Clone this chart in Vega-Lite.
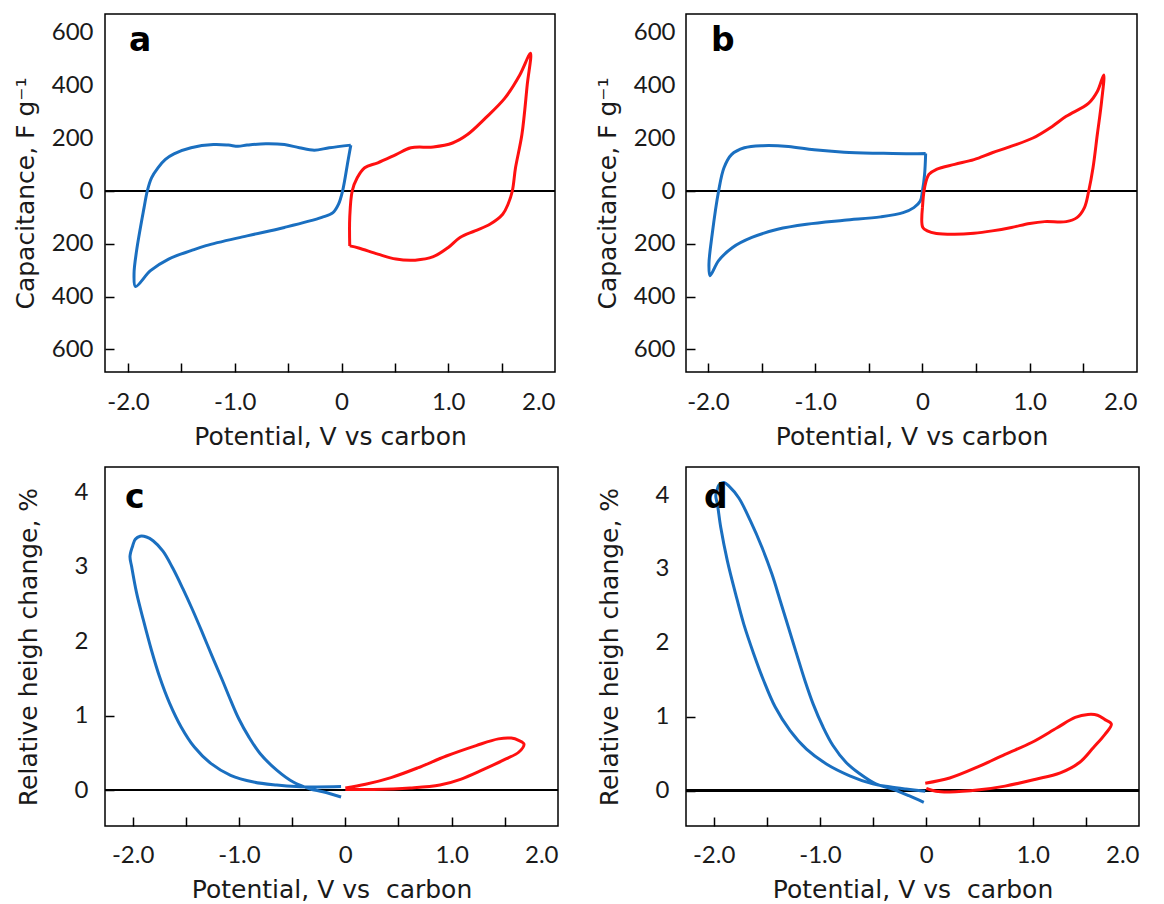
{
  "$schema": "https://vega.github.io/schema/vega-lite/v6.json",
  "background": "white",
  "padding": {"left": 12, "top": 13, "right": 0, "bottom": 0},
  "config": {
    "view": {"stroke": "black", "strokeWidth": 1.5},
    "font": "DejaVu Sans",
    "axis": {
      "domain": false, "grid": false, "tickColor": "black", "tickWidth": 1.5, "tickSize": -9,
      "tickOpacity": {"condition": {"test": "datum.value > 1.95", "value": 0}, "value": 1},
      "labelFont": "Lato", "labelFontSize": 24, "labelColor": "#1a1a1a",
      "titleFont": "DejaVu Sans", "titleFontSize": 25, "titleFontWeight": "normal", "titleColor": "#1a1a1a"
    },
    "title": {"font": "DejaVu Sans", "fontSize": 33, "fontWeight": "bold", "color": "black", "anchor": "start", "frame": "group", "baseline": "alphabetic", "offset": 0}
  },
  "datasets": {
    "curves": [
      {"p":"a","s":"n","i":1,"v":0.087,"y":174},{"p":"a","s":"n","i":2,"v":0.06,"y":113},{"p":"a","s":"n","i":3,"v":0.01,"y":0},{"p":"a","s":"n","i":4,"v":-0.028,"y":-50},{"p":"a","s":"n","i":5,"v":-0.08,"y":-82},{"p":"a","s":"n","i":6,"v":-0.185,"y":-100},{"p":"a","s":"n","i":7,"v":-0.535,"y":-138},{"p":"a","s":"n","i":8,"v":-0.885,"y":-170},{"p":"a","s":"n","i":9,"v":-1.27,"y":-207},{"p":"a","s":"n","i":10,"v":-1.41,"y":-226},{"p":"a","s":"n","i":11,"v":-1.62,"y":-258},{"p":"a","s":"n","i":12,"v":-1.79,"y":-302},{"p":"a","s":"n","i":13,"v":-1.93,"y":-362},{"p":"a","s":"n","i":14,"v":-1.944,"y":-314},{"p":"a","s":"n","i":15,"v":-1.92,"y":-226},{"p":"a","s":"n","i":16,"v":-1.85,"y":-63},{"p":"a","s":"n","i":17,"v":-1.82,"y":0},{"p":"a","s":"n","i":18,"v":-1.78,"y":50},{"p":"a","s":"n","i":19,"v":-1.72,"y":88},{"p":"a","s":"n","i":20,"v":-1.65,"y":120},{"p":"a","s":"n","i":21,"v":-1.57,"y":141},{"p":"a","s":"n","i":22,"v":-1.41,"y":164},{"p":"a","s":"n","i":23,"v":-1.2,"y":176},{"p":"a","s":"n","i":24,"v":-1.06,"y":174},{"p":"a","s":"n","i":25,"v":-0.97,"y":170},{"p":"a","s":"n","i":26,"v":-0.885,"y":174},{"p":"a","s":"n","i":27,"v":-0.71,"y":179},{"p":"a","s":"n","i":28,"v":-0.535,"y":176},{"p":"a","s":"n","i":29,"v":-0.395,"y":164},{"p":"a","s":"n","i":30,"v":-0.255,"y":155},{"p":"a","s":"n","i":31,"v":-0.115,"y":164},{"p":"a","s":"n","i":32,"v":0.087,"y":174},
      {"p":"a","s":"p","i":1,"v":0.077,"y":-208},{"p":"a","s":"p","i":2,"v":0.077,"y":-100},{"p":"a","s":"p","i":3,"v":0.1,"y":0},{"p":"a","s":"p","i":4,"v":0.147,"y":50},{"p":"a","s":"p","i":5,"v":0.217,"y":88},{"p":"a","s":"p","i":6,"v":0.34,"y":107},{"p":"a","s":"p","i":7,"v":0.51,"y":138},{"p":"a","s":"p","i":8,"v":0.65,"y":164},{"p":"a","s":"p","i":9,"v":0.86,"y":167},{"p":"a","s":"p","i":10,"v":1.04,"y":182},{"p":"a","s":"p","i":11,"v":1.18,"y":214},{"p":"a","s":"p","i":12,"v":1.35,"y":277},{"p":"a","s":"p","i":13,"v":1.53,"y":352},{"p":"a","s":"p","i":14,"v":1.67,"y":440},{"p":"a","s":"p","i":15,"v":1.77,"y":522},{"p":"a","s":"p","i":16,"v":1.74,"y":403},{"p":"a","s":"p","i":17,"v":1.69,"y":214},{"p":"a","s":"p","i":18,"v":1.63,"y":88},{"p":"a","s":"p","i":19,"v":1.6,"y":0},{"p":"a","s":"p","i":20,"v":1.56,"y":-50},{"p":"a","s":"p","i":21,"v":1.51,"y":-88},{"p":"a","s":"p","i":22,"v":1.39,"y":-126},{"p":"a","s":"p","i":23,"v":1.25,"y":-151},{"p":"a","s":"p","i":24,"v":1.11,"y":-176},{"p":"a","s":"p","i":25,"v":1.0,"y":-214},{"p":"a","s":"p","i":26,"v":0.86,"y":-249},{"p":"a","s":"p","i":27,"v":0.69,"y":-262},{"p":"a","s":"p","i":28,"v":0.51,"y":-258},{"p":"a","s":"p","i":29,"v":0.34,"y":-239},{"p":"a","s":"p","i":30,"v":0.16,"y":-216},{"p":"a","s":"p","i":31,"v":0.077,"y":-208},
      {"p":"b","s":"n","i":1,"v":0.03,"y":142},{"p":"b","s":"n","i":2,"v":0.02,"y":63},{"p":"b","s":"n","i":3,"v":0.0,"y":0},{"p":"b","s":"n","i":4,"v":-0.02,"y":-38},{"p":"b","s":"n","i":5,"v":-0.08,"y":-63},{"p":"b","s":"n","i":6,"v":-0.18,"y":-82},{"p":"b","s":"n","i":7,"v":-0.39,"y":-98},{"p":"b","s":"n","i":8,"v":-0.73,"y":-111},{"p":"b","s":"n","i":9,"v":-1.08,"y":-126},{"p":"b","s":"n","i":10,"v":-1.35,"y":-145},{"p":"b","s":"n","i":11,"v":-1.59,"y":-176},{"p":"b","s":"n","i":12,"v":-1.77,"y":-214},{"p":"b","s":"n","i":13,"v":-1.9,"y":-264},{"p":"b","s":"n","i":14,"v":-1.98,"y":-321},{"p":"b","s":"n","i":15,"v":-1.99,"y":-277},{"p":"b","s":"n","i":16,"v":-1.96,"y":-164},{"p":"b","s":"n","i":17,"v":-1.9,"y":0},{"p":"b","s":"n","i":18,"v":-1.85,"y":88},{"p":"b","s":"n","i":19,"v":-1.78,"y":138},{"p":"b","s":"n","i":20,"v":-1.66,"y":164},{"p":"b","s":"n","i":21,"v":-1.49,"y":172},{"p":"b","s":"n","i":22,"v":-1.25,"y":169},{"p":"b","s":"n","i":23,"v":-1.01,"y":156},{"p":"b","s":"n","i":24,"v":-0.73,"y":147},{"p":"b","s":"n","i":25,"v":-0.39,"y":143},{"p":"b","s":"n","i":26,"v":-0.11,"y":141},{"p":"b","s":"n","i":27,"v":0.03,"y":142},
      {"p":"b","s":"p","i":1,"v":0.0,"y":-63},{"p":"b","s":"p","i":2,"v":0.003,"y":-138},{"p":"b","s":"p","i":3,"v":0.045,"y":-151},{"p":"b","s":"p","i":4,"v":0.13,"y":-161},{"p":"b","s":"p","i":5,"v":0.3,"y":-164},{"p":"b","s":"p","i":6,"v":0.48,"y":-160},{"p":"b","s":"p","i":7,"v":0.65,"y":-151},{"p":"b","s":"p","i":8,"v":0.83,"y":-138},{"p":"b","s":"p","i":9,"v":1.0,"y":-123},{"p":"b","s":"p","i":10,"v":1.14,"y":-116},{"p":"b","s":"p","i":11,"v":1.34,"y":-116},{"p":"b","s":"p","i":12,"v":1.44,"y":-101},{"p":"b","s":"p","i":13,"v":1.51,"y":-63},{"p":"b","s":"p","i":14,"v":1.55,"y":0},{"p":"b","s":"p","i":15,"v":1.59,"y":88},{"p":"b","s":"p","i":16,"v":1.63,"y":214},{"p":"b","s":"p","i":17,"v":1.67,"y":340},{"p":"b","s":"p","i":18,"v":1.69,"y":440},{"p":"b","s":"p","i":19,"v":1.63,"y":377},{"p":"b","s":"p","i":20,"v":1.55,"y":333},{"p":"b","s":"p","i":21,"v":1.34,"y":283},{"p":"b","s":"p","i":22,"v":1.21,"y":245},{"p":"b","s":"p","i":23,"v":1.03,"y":201},{"p":"b","s":"p","i":24,"v":0.83,"y":170},{"p":"b","s":"p","i":25,"v":0.65,"y":145},{"p":"b","s":"p","i":26,"v":0.48,"y":119},{"p":"b","s":"p","i":27,"v":0.3,"y":101},{"p":"b","s":"p","i":28,"v":0.13,"y":82},{"p":"b","s":"p","i":29,"v":0.06,"y":63},{"p":"b","s":"p","i":30,"v":0.02,"y":13},{"p":"b","s":"p","i":31,"v":0.0,"y":-63},
      {"p":"c","s":"n","i":1,"v":-0.04,"y":-0.09},{"p":"c","s":"n","i":2,"v":-0.211,"y":-0.02},{"p":"c","s":"n","i":3,"v":-0.335,"y":0.02},{"p":"c","s":"n","i":4,"v":-0.49,"y":0.11},{"p":"c","s":"n","i":5,"v":-0.645,"y":0.27},{"p":"c","s":"n","i":6,"v":-0.8,"y":0.49},{"p":"c","s":"n","i":7,"v":-0.909,"y":0.72},{"p":"c","s":"n","i":8,"v":-1.002,"y":0.96},{"p":"c","s":"n","i":9,"v":-1.079,"y":1.21},{"p":"c","s":"n","i":10,"v":-1.157,"y":1.48},{"p":"c","s":"n","i":11,"v":-1.25,"y":1.79},{"p":"c","s":"n","i":12,"v":-1.343,"y":2.11},{"p":"c","s":"n","i":13,"v":-1.436,"y":2.42},{"p":"c","s":"n","i":14,"v":-1.529,"y":2.71},{"p":"c","s":"n","i":15,"v":-1.622,"y":2.98},{"p":"c","s":"n","i":16,"v":-1.715,"y":3.21},{"p":"c","s":"n","i":17,"v":-1.808,"y":3.35},{"p":"c","s":"n","i":18,"v":-1.87,"y":3.4},{"p":"c","s":"n","i":19,"v":-1.93,"y":3.41},{"p":"c","s":"n","i":20,"v":-1.975,"y":3.37},{"p":"c","s":"n","i":21,"v":-2.0,"y":3.28},{"p":"c","s":"n","i":22,"v":-2.025,"y":3.14},{"p":"c","s":"n","i":23,"v":-2.009,"y":3.0},{"p":"c","s":"n","i":24,"v":-1.963,"y":2.65},{"p":"c","s":"n","i":25,"v":-1.9,"y":2.29},{"p":"c","s":"n","i":26,"v":-1.823,"y":1.88},{"p":"c","s":"n","i":27,"v":-1.746,"y":1.52},{"p":"c","s":"n","i":28,"v":-1.653,"y":1.17},{"p":"c","s":"n","i":29,"v":-1.544,"y":0.85},{"p":"c","s":"n","i":30,"v":-1.42,"y":0.58},{"p":"c","s":"n","i":31,"v":-1.265,"y":0.36},{"p":"c","s":"n","i":32,"v":-1.079,"y":0.2},{"p":"c","s":"n","i":33,"v":-0.862,"y":0.11},{"p":"c","s":"n","i":34,"v":-0.645,"y":0.07},{"p":"c","s":"n","i":35,"v":-0.459,"y":0.05},{"p":"c","s":"n","i":36,"v":-0.273,"y":0.045},{"p":"c","s":"n","i":37,"v":-0.04,"y":0.05},
      {"p":"c","s":"p","i":1,"v":0.0,"y":0.03},{"p":"c","s":"p","i":2,"v":0.19,"y":0.08},{"p":"c","s":"p","i":3,"v":0.43,"y":0.17},{"p":"c","s":"p","i":4,"v":0.68,"y":0.3},{"p":"c","s":"p","i":5,"v":0.95,"y":0.46},{"p":"c","s":"p","i":6,"v":1.23,"y":0.6},{"p":"c","s":"p","i":7,"v":1.44,"y":0.69},{"p":"c","s":"p","i":8,"v":1.56,"y":0.7},{"p":"c","s":"p","i":9,"v":1.63,"y":0.67},{"p":"c","s":"p","i":10,"v":1.68,"y":0.62},{"p":"c","s":"p","i":11,"v":1.63,"y":0.51},{"p":"c","s":"p","i":12,"v":1.51,"y":0.42},{"p":"c","s":"p","i":13,"v":1.3,"y":0.28},{"p":"c","s":"p","i":14,"v":1.09,"y":0.15},{"p":"c","s":"p","i":15,"v":0.89,"y":0.07},{"p":"c","s":"p","i":16,"v":0.61,"y":0.03},{"p":"c","s":"p","i":17,"v":0.26,"y":0.01},{"p":"c","s":"p","i":18,"v":0.0,"y":0.01},
      {"p":"d","s":"n","i":1,"v":-0.024,"y":-0.16},{"p":"d","s":"n","i":2,"v":-0.164,"y":-0.07},{"p":"d","s":"n","i":3,"v":-0.319,"y":0.02},{"p":"d","s":"n","i":4,"v":-0.475,"y":0.09},{"p":"d","s":"n","i":5,"v":-0.629,"y":0.23},{"p":"d","s":"n","i":6,"v":-0.754,"y":0.38},{"p":"d","s":"n","i":7,"v":-0.878,"y":0.61},{"p":"d","s":"n","i":8,"v":-0.971,"y":0.86},{"p":"d","s":"n","i":9,"v":-1.064,"y":1.17},{"p":"d","s":"n","i":10,"v":-1.142,"y":1.49},{"p":"d","s":"n","i":11,"v":-1.22,"y":1.85},{"p":"d","s":"n","i":12,"v":-1.297,"y":2.21},{"p":"d","s":"n","i":13,"v":-1.374,"y":2.57},{"p":"d","s":"n","i":14,"v":-1.452,"y":2.93},{"p":"d","s":"n","i":15,"v":-1.545,"y":3.29},{"p":"d","s":"n","i":16,"v":-1.654,"y":3.65},{"p":"d","s":"n","i":17,"v":-1.763,"y":3.96},{"p":"d","s":"n","i":18,"v":-1.856,"y":4.12},{"p":"d","s":"n","i":19,"v":-1.902,"y":4.17},{"p":"d","s":"n","i":20,"v":-1.949,"y":4.14},{"p":"d","s":"n","i":21,"v":-1.97,"y":4.05},{"p":"d","s":"n","i":22,"v":-1.98,"y":3.99},{"p":"d","s":"n","i":23,"v":-1.964,"y":3.87},{"p":"d","s":"n","i":24,"v":-1.933,"y":3.56},{"p":"d","s":"n","i":25,"v":-1.871,"y":3.11},{"p":"d","s":"n","i":26,"v":-1.793,"y":2.66},{"p":"d","s":"n","i":27,"v":-1.716,"y":2.25},{"p":"d","s":"n","i":28,"v":-1.623,"y":1.85},{"p":"d","s":"n","i":29,"v":-1.53,"y":1.49},{"p":"d","s":"n","i":30,"v":-1.421,"y":1.13},{"p":"d","s":"n","i":31,"v":-1.281,"y":0.81},{"p":"d","s":"n","i":32,"v":-1.127,"y":0.56},{"p":"d","s":"n","i":33,"v":-0.94,"y":0.36},{"p":"d","s":"n","i":34,"v":-0.72,"y":0.2},{"p":"d","s":"n","i":35,"v":-0.503,"y":0.09},{"p":"d","s":"n","i":36,"v":-0.347,"y":0.05},{"p":"d","s":"n","i":37,"v":-0.192,"y":0.02},{"p":"d","s":"n","i":38,"v":-0.01,"y":-0.01},
      {"p":"d","s":"p","i":1,"v":-0.01,"y":0.1},{"p":"d","s":"p","i":2,"v":0.22,"y":0.17},{"p":"d","s":"p","i":3,"v":0.5,"y":0.33},{"p":"d","s":"p","i":4,"v":0.74,"y":0.49},{"p":"d","s":"p","i":5,"v":0.99,"y":0.65},{"p":"d","s":"p","i":6,"v":1.23,"y":0.85},{"p":"d","s":"p","i":7,"v":1.4,"y":0.99},{"p":"d","s":"p","i":8,"v":1.52,"y":1.03},{"p":"d","s":"p","i":9,"v":1.61,"y":1.02},{"p":"d","s":"p","i":10,"v":1.68,"y":0.96},{"p":"d","s":"p","i":11,"v":1.74,"y":0.9},{"p":"d","s":"p","i":12,"v":1.68,"y":0.76},{"p":"d","s":"p","i":13,"v":1.57,"y":0.58},{"p":"d","s":"p","i":14,"v":1.44,"y":0.38},{"p":"d","s":"p","i":15,"v":1.26,"y":0.24},{"p":"d","s":"p","i":16,"v":1.02,"y":0.15},{"p":"d","s":"p","i":17,"v":0.74,"y":0.06},{"p":"d","s":"p","i":18,"v":0.5,"y":0.01},{"p":"d","s":"p","i":19,"v":0.22,"y":-0.02},{"p":"d","s":"p","i":20,"v":0.09,"y":-0.01},{"p":"d","s":"p","i":21,"v":0.0,"y":0.03}
    ]
  },
  "columns": 2,
  "spacing": {"row": 95, "column": 128},
  "bounds": "flush",
  "concat": [
    {
      "width": 450, "height": 358,
      "title": {"text": "a", "dx": 24, "dy": 48},
      "data": {"name": "curves"},
      "layer": [
        {"mark": {"type": "rule", "color": "black", "strokeWidth": 1.5}, "encoding": {"y": {"datum": 0, "type": "quantitative"}}},
        {
          "transform": [{"filter": "datum.p == 'a'"}],
          "mark": {"type": "line", "strokeWidth": 3, "interpolate": "catmull-rom"},
          "encoding": {
            "x": {"field": "v", "type": "quantitative", "title": "Potential, V vs carbon", "scale": {"domain": [-2.216, 2.0], "nice": false, "zero": false}, "axis": {"values": [-2, -1.5, -1, -0.5, 0, 0.5, 1, 1.5, 2], "labelPadding": 27, "titlePadding": 10, "labelExpr": "datum.value == 0 ? '0' : (datum.value % 1 != 0 ? '' : (datum.value < 0 ? '-' : '') + format(abs(datum.value), '.1f'))"}},
            "y": {"field": "y", "type": "quantitative", "title": "Capacitance, F g⁻¹", "scale": {"domain": [-686, 671], "nice": false, "zero": false}, "axis": {"values": [-600, -400, -200, 0, 200, 400, 600], "labelPadding": 21, "titlePadding": 13, "labelExpr": "format(abs(datum.value), 'd')"}},
            "color": {"field": "s", "type": "nominal", "scale": {"domain": ["n", "p"], "range": ["#1a6fc0", "#ff1010"]}, "legend": null},
            "order": {"field": "i", "type": "quantitative"}
          }
        }
      ]
    },
    {
      "width": 451, "height": 358,
      "title": {"text": "b", "dx": 25, "dy": 48},
      "data": {"name": "curves"},
      "layer": [
        {"mark": {"type": "rule", "color": "black", "strokeWidth": 1.5}, "encoding": {"y": {"datum": 0, "type": "quantitative"}}},
        {
          "transform": [{"filter": "datum.p == 'b'"}],
          "mark": {"type": "line", "strokeWidth": 3, "interpolate": "catmull-rom"},
          "encoding": {
            "x": {"field": "v", "type": "quantitative", "title": "Potential, V vs carbon", "scale": {"domain": [-2.204, 2.0], "nice": false, "zero": false}, "axis": {"values": [-2, -1.5, -1, -0.5, 0, 0.5, 1, 1.5, 2], "labelPadding": 27, "titlePadding": 10, "labelExpr": "datum.value == 0 ? '0' : (datum.value % 1 != 0 ? '' : (datum.value < 0 ? '-' : '') + format(abs(datum.value), '.1f'))"}},
            "y": {"field": "y", "type": "quantitative", "title": "Capacitance, F g⁻¹", "scale": {"domain": [-686, 671], "nice": false, "zero": false}, "axis": {"values": [-600, -400, -200, 0, 200, 400, 600], "labelPadding": 20, "titlePadding": 13, "labelExpr": "format(abs(datum.value), 'd')"}},
            "color": {"field": "s", "type": "nominal", "scale": {"domain": ["n", "p"], "range": ["#1a6fc0", "#ff1010"]}, "legend": null},
            "order": {"field": "i", "type": "quantitative"}
          }
        }
      ]
    },
    {
      "width": 453, "height": 359,
      "title": {"text": "c", "dx": 20, "dy": 52},
      "data": {"name": "curves"},
      "layer": [
        {"mark": {"type": "rule", "color": "black", "strokeWidth": 1.5}, "encoding": {"y": {"datum": 0, "type": "quantitative"}}},
        {
          "transform": [{"filter": "datum.p == 'c'"}],
          "mark": {"type": "line", "strokeWidth": 3, "interpolate": "catmull-rom"},
          "encoding": {
            "x": {"field": "v", "type": "quantitative", "title": "Potential, V vs \u00a0carbon", "scale": {"domain": [-2.26, 2.0], "nice": false, "zero": false}, "axis": {"values": [-2, -1.5, -1, -0.5, 0, 0.5, 1, 1.5, 2], "labelPadding": 26, "titlePadding": 10, "labelExpr": "datum.value == 0 ? '0' : (datum.value % 1 != 0 ? '' : (datum.value < 0 ? '-' : '') + format(abs(datum.value), '.1f'))"}},
            "y": {"field": "y", "type": "quantitative", "title": "Relative heigh change, %", "scale": {"domain": [-0.48, 4.34], "nice": false, "zero": false}, "axis": {"values": [0, 1, 2, 3, 4], "labelPadding": 26, "titlePadding": 33, "labelExpr": "format(datum.value, 'd')"}},
            "color": {"field": "s", "type": "nominal", "scale": {"domain": ["n", "p"], "range": ["#1a6fc0", "#ff1010"]}, "legend": null},
            "order": {"field": "i", "type": "quantitative"}
          }
        }
      ]
    },
    {
      "width": 453, "height": 359,
      "title": {"text": "d", "dx": 18, "dy": 52},
      "data": {"name": "curves"},
      "layer": [
        {"mark": {"type": "rule", "color": "black", "strokeWidth": 1.5}, "encoding": {"y": {"datum": 0, "type": "quantitative"}}},
        {
          "transform": [{"filter": "datum.p == 'd'"}],
          "mark": {"type": "line", "strokeWidth": 3, "interpolate": "catmull-rom"},
          "encoding": {
            "x": {"field": "v", "type": "quantitative", "title": "Potential, V vs \u00a0carbon", "scale": {"domain": [-2.26, 2.0], "nice": false, "zero": false}, "axis": {"values": [-2, -1.5, -1, -0.5, 0, 0.5, 1, 1.5, 2], "labelPadding": 26, "titlePadding": 10, "labelExpr": "datum.value == 0 ? '0' : (datum.value % 1 != 0 ? '' : (datum.value < 0 ? '-' : '') + format(abs(datum.value), '.1f'))"}},
            "y": {"field": "y", "type": "quantitative", "title": "Relative heigh change, %", "scale": {"domain": [-0.48, 4.38], "nice": false, "zero": false}, "axis": {"values": [0, 1, 2, 3, 4], "labelPadding": 26, "titlePadding": 33, "labelExpr": "format(datum.value, 'd')"}},
            "color": {"field": "s", "type": "nominal", "scale": {"domain": ["n", "p"], "range": ["#1a6fc0", "#ff1010"]}, "legend": null},
            "order": {"field": "i", "type": "quantitative"}
          }
        }
      ]
    }
  ]
}
